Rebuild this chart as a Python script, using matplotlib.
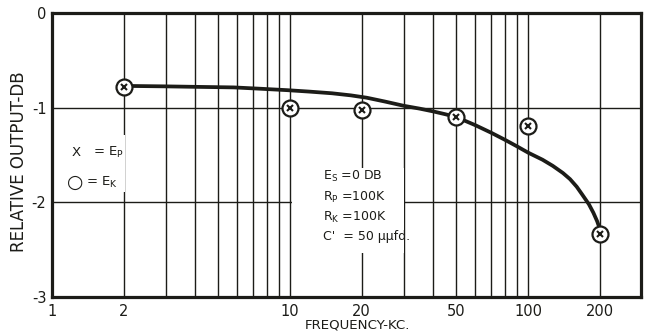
import matplotlib
matplotlib.use("Agg")
import matplotlib.pyplot as plt
from matplotlib.patches import Rectangle

# Measured points (frequency in kc, relative output in dB)
freq_pts = [2, 10, 20, 50, 100, 200]
db_pts = [-0.78, -1.0, -1.02, -1.10, -1.19, -2.33]

# Faired response curve through the measurements
freq_curve = [2, 3, 4, 5.8, 7.5, 9.7, 12, 15, 18, 21, 25, 30, 35, 40, 45, 50,
              60, 70, 80, 90, 100, 115, 127, 140, 150, 160, 169, 180, 188, 195, 200]
db_curve = [-0.77, -0.775, -0.78, -0.786, -0.80, -0.815, -0.83, -0.848, -0.87,
            -0.895, -0.935, -0.98, -1.01, -1.04, -1.07, -1.10,
            -1.185, -1.265, -1.34, -1.41, -1.475, -1.55, -1.615, -1.69, -1.755,
            -1.835, -1.92, -2.02, -2.11, -2.20, -2.28]

x_ticks = [1, 2, 10, 20, 50, 100, 200]
x_tick_labels = ["1", "2", "10", "20", "50", "100", "200"]
y_ticks = [0, -1, -2, -3]
y_tick_labels = ["0", "-1", "-2", "-3"]

ink = "#1c1c18"

fig = plt.figure(figsize=(6.49, 3.32), dpi=100)
ax = fig.add_axes([52 / 649, 35 / 332, 589 / 649, 284 / 332])
ax.set_xscale("log")
ax.set_xlim(1, 298)
ax.set_ylim(-3, 0)

# log-paper grid
vgrid = [v * d for d in (1, 10) for v in range(2, 10)] + [10, 100, 200]
for v in vgrid:
    ax.axvline(v, color=ink, lw=1.0, zorder=1)
for h in (-1, -2):
    ax.axhline(h, color=ink, lw=1.0, zorder=1)

for s in ax.spines.values():
    s.set_linewidth(2.3)
    s.set_color(ink)

ax.set_xticks(x_ticks)
ax.set_xticklabels(x_tick_labels)
ax.set_xticks([], minor=True)
ax.set_yticks(y_ticks)
ax.set_yticklabels(y_tick_labels)
ax.tick_params(axis="x", length=0, labelsize=10.5, colors=ink, pad=5)
ax.tick_params(axis="y", length=0, labelsize=10.5, colors=ink, pad=4)

ax.plot(freq_curve, db_curve, color=ink, lw=2.7, zorder=3,
        solid_capstyle="round", solid_joinstyle="round")
ax.plot(freq_pts, db_pts, linestyle="none", marker="o", ms=11.5,
        mfc="white", mec=ink, mew=1.6, zorder=4)
ax.plot(freq_pts, db_pts, linestyle="none", marker="x", ms=4.3,
        mec=ink, mew=1.5, zorder=5)

# white-out panels behind the lettering
ax.add_patch(Rectangle((0.014, 0.37), 0.11, 0.20, transform=ax.transAxes,
                       facecolor="white", edgecolor="none", zorder=2))
ax.add_patch(Rectangle((0.408, 0.155), 0.19, 0.30, transform=ax.transAxes,
                       facecolor="white", edgecolor="none", zorder=2))

# key
ax.text(0.034, 0.51, "X", transform=ax.transAxes, fontsize=9.5,
        color=ink, va="center", ha="left", zorder=6)
ax.text(0.070, 0.51, "= E$_\\mathregular{P}$", transform=ax.transAxes,
        fontsize=9.5, color=ink, va="center", ha="left", zorder=6)
ax.text(0.026, 0.405, "\u25CB", transform=ax.transAxes, fontsize=13.5,
        color=ink, va="center", ha="left", zorder=6)
ax.text(0.058, 0.405, "= E$_\\mathregular{K}$", transform=ax.transAxes,
        fontsize=9.5, color=ink, va="center", ha="left", zorder=6)

# circuit constants
ax.text(0.460, 0.32,
        "E$_\\mathregular{S}$ =0 DB\nR$_\\mathregular{P}$ =100K\n"
        "R$_\\mathregular{K}$ =100K\nC'  = 50 \u03bc\u03bcfd.",
        transform=ax.transAxes, fontsize=9, color=ink, va="center",
        ha="left", linespacing=1.5, zorder=6)

fig.text(19 / 649, 1 - 162 / 332, "RELATIVE OUTPUT-DB", rotation=90,
         fontsize=12, color=ink, ha="center", va="center")
fig.text(358 / 649, 0.3 / 332, "FREQUENCY-KC.", fontsize=9.6,
         color=ink, ha="center", va="bottom")

fig.savefig("out.png", dpi=100)
